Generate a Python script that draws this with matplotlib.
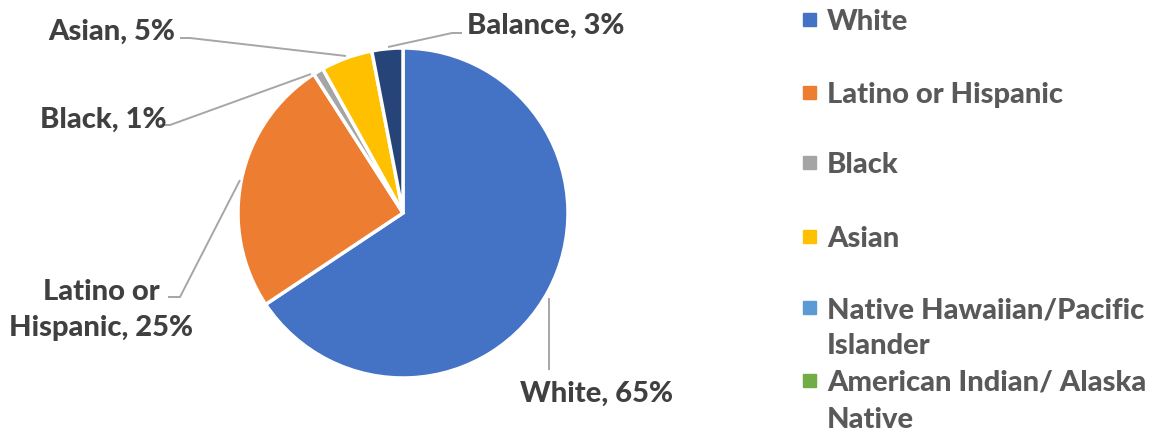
import matplotlib.pyplot as plt
from matplotlib.patches import Rectangle

plt.rcParams["font.family"] = ["Lato", "DejaVu Sans"]

# slice data (clockwise from 12 o'clock)
slice_names = ["White", "Latino or Hispanic", "Black", "Asian", "Balance"]
slice_pct = [65, 25, 1, 5, 3]
slice_labels = ["White, 65%", "Latino or\nHispanic, 25%", "Black, 1%",
                "Asian, 5%", "Balance, 3%"]

legend_names = ["White", "Latino or Hispanic", "Black", "Asian",
                "Native Hawaiian/Pacific\nIslander",
                "American Indian/ Alaska\nNative"]

COLORS = {
    "White": "#4472C4",
    "Latino or Hispanic": "#ED7D31",
    "Black": "#A5A5A5",
    "Asian": "#FFC000",
    "Native Hawaiian/Pacific\nIslander": "#5B9BD5",
    "American Indian/ Alaska\nNative": "#70AD47",
    "Balance": "#264478",
}

W, H = 1156, 432
fig = plt.figure(figsize=(W / 100, H / 100), dpi=100)
ax = fig.add_axes([0, 0, 1, 1])
ax.set_xlim(0, W)
ax.set_ylim(0, H)
ax.set_aspect("equal")
ax.axis("off")

# pixel-space helper: y measured from the top
def P(x, y):
    return (x, H - y)

cx, cy = P(403, 213)
ax.pie(slice_pct, colors=[COLORS[n] for n in slice_names], startangle=90,
       counterclock=False, center=(cx, cy), radius=165,
       wedgeprops=dict(edgecolor="white", linewidth=2.5))
ax.set_xlim(0, W)
ax.set_ylim(0, H)

LINE = dict(color="#A6A6A6", lw=1.4, solid_capstyle="butt")
FS = 21
TXT = dict(fontsize=FS, fontweight="black", color="#404040")

# leader lines: label end -> elbow -> wedge
leaders = {
    "White": [(549, 370), (549, 298)],
    "Latino or Hispanic": [(168, 297), (180, 297), (240, 180)],
    "Black": [(160, 125), (170, 125), (311, 74)],
    "Asian": [(180, 38), (190, 38), (346, 56)],
    "Balance": [(462, 33), (452, 33), (388, 47)],
}
for pts in leaders.values():
    xs, ys = zip(*[P(*p) for p in pts])
    ax.plot(xs, ys, **LINE)

label_pos = {
    "White": (597, 394),
    "Latino or Hispanic": (101, 310),
    "Black": (103, 120),
    "Asian": (112, 32),
    "Balance": (546, 26),
}
for name, lab in zip(slice_names, slice_labels):
    ax.text(*P(*label_pos[name]), lab, ha="center", va="center",
            linespacing=1.5, **TXT)

# legend drawn by hand
leg_y = [20, 93, 163, 237, 308, 381]
for name, y in zip(legend_names, leg_y):
    ax.add_patch(Rectangle(P(803, y + 6), 13, 13, color=COLORS[name]))
    ax.text(*P(827, y - 11), name, ha="left", va="top", fontsize=FS,
            fontweight="black", color="#595959", linespacing=1.5)

fig.savefig("out.png", dpi=100)
